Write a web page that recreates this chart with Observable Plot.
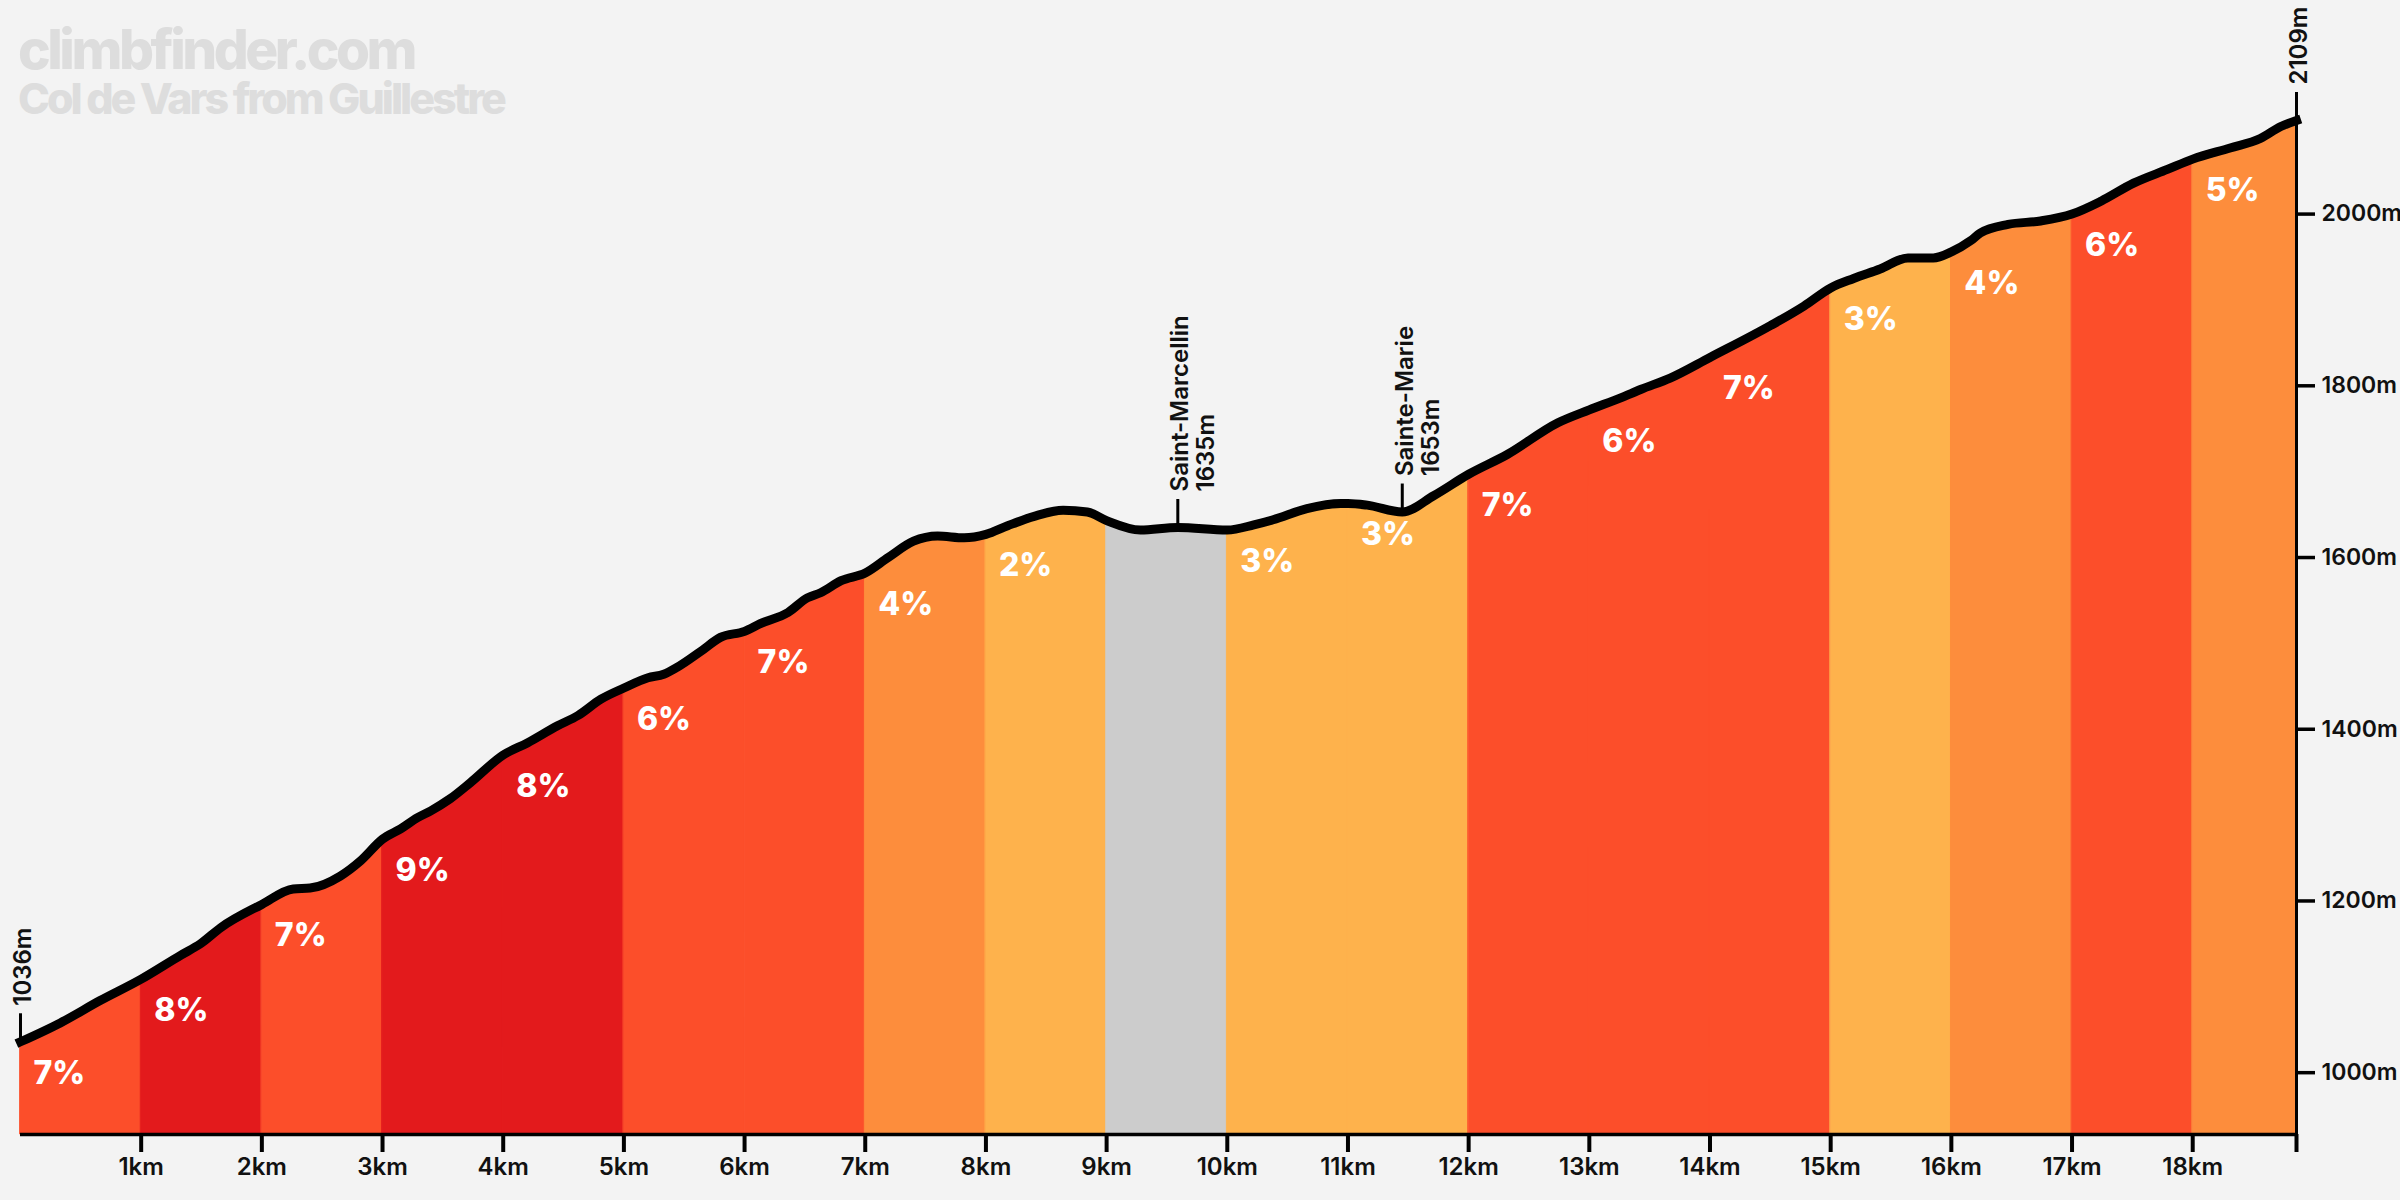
<!DOCTYPE html>
<html>
<head>
<meta charset="utf-8">
<script src="https://cdn.jsdelivr.net/npm/d3@7"></script>
<script src="https://cdn.jsdelivr.net/npm/@observablehq/plot@0.6"></script>
<style>
  html, body { margin: 0; padding: 0; background: #f3f3f3; }
  #wrap { position: relative; width: 2400px; height: 1200px; }
  #title { position: absolute; left: 18px; top: 22px; font-family: Inter, "Noto Sans", sans-serif; color: #dddddd; font-weight: 800; }
  #title .site { font-size: 55px; line-height: 55px; letter-spacing: -3.5px; }
  #title .climb { font-size: 43px; line-height: 42px; letter-spacing: -3px; }
  g[aria-label="grade-label"] { filter: drop-shadow(1px 2px 1.5px rgba(0,0,0,0.35)); }
</style>
</head>
<body>
<div id="wrap">
  <div id="title">
    <div class="site">climbfinder.com</div>
    <div class="climb">Col de Vars from Guillestre</div>
  </div>
</div>
<script>
// Elevation profile: distance (km) and altitude (m)
const profileKm = [
  0, 0.33, 0.66, 1, 1.33, 1.49, 1.66, 2, 2.26, 2.4, 2.65, 2.82, 3, 3.15, 3.29,
  3.4, 3.56, 3.73, 4, 4.2, 4.45, 4.62, 4.81, 5, 5.2, 5.33, 5.44, 5.64, 5.8, 6,
  6.13, 6.36, 6.52, 6.63, 6.8, 7, 7.19, 7.4, 7.6, 7.82, 8, 8.18, 8.4, 8.64, 8.84,
  9, 9.28, 9.59, 10, 10.22, 10.38, 10.66, 10.94, 11, 11.16, 11.45, 11.71, 12,
  12.32, 12.74, 13, 13.26, 13.43, 13.67, 14, 14.5, 14.78, 15, 15.19, 15.41, 15.64,
  15.85, 16, 16.16, 16.24, 16.47, 16.74, 17, 17.24, 17.51, 17.79, 18, 18.31, 18.56,
  18.73, 18.86
];
const profileElev = [
  1036, 1058, 1084, 1109, 1137, 1150, 1169, 1196, 1214, 1215, 1229, 1247, 1272, 1284, 1297,
  1305, 1319, 1338, 1370, 1384, 1404, 1416, 1435, 1448, 1460, 1464, 1472, 1491, 1507, 1514,
  1523, 1536, 1553, 1559, 1573, 1582, 1600, 1619, 1625, 1623, 1627, 1637, 1648, 1655, 1653,
  1643, 1632, 1635, 1632, 1638, 1644, 1657, 1663, 1663, 1661, 1653, 1672, 1697,
  1720, 1757, 1772, 1786, 1796, 1809, 1833, 1870, 1893, 1914, 1925, 1936, 1949,
  1949, 1956, 1969, 1978, 1988, 1992, 2000, 2015, 2036, 2052, 2064, 2077, 2088,
  2102, 2109
];

// Average gradient (%) of each kilometre, starting at km 0
const segmentGrade = [7, 8, 7, 9, 8, 6, 7, 4, 2, -1, 3, 3, 7, 6, 7, 3, 4, 6, 5];

// Named places along the road (plus start and summit)
const markerKm = [0, 9.59, 11.45, 18.86];
const markerName = ["", "Saint-Marcellin", "Sainte-Marie", ""];
const markerElev = [1036, 1635, 1653, 2109];

// Axis ticks
const kmTicks = [1, 2, 3, 4, 5, 6, 7, 8, 9, 10, 11, 12, 13, 14, 15, 16, 17, 18];
const elevTicks = [1000, 1200, 1400, 1600, 1800, 2000];
const elevationFloor = 928;

// Gradient colour bands
const gradeThresholds = [1, 4, 6, 8];
const gradeColors = ["#cccccc", "#feb24c", "#fd8d3c", "#fc4e2a", "#e31a1c"];

const totalKm = profileKm[profileKm.length - 1];
const summit = profileElev[profileElev.length - 1];
const profile = profileKm.map((km, i) => ({km, elev: profileElev[i]}));

const elevAt = (km) => {
  const i = profileKm.findIndex((k) => Math.abs(k - km) < 1e-9);
  return profileElev[i];
};

// Split the profile into one area series per kilometre (boundary points shared)
const segments = segmentGrade.map((grade, i) => ({
  seg: i, start: i, end: Math.min(i + 1, totalKm), grade
}));
const areaRows = segments.flatMap((s) =>
  profile
    .filter((p) => p.km >= s.start - 1e-9 && p.km <= s.end + 1e-9)
    .map((p) => ({...p, seg: s.seg, grade: s.grade}))
);
const labelled = segments
  .filter((s) => s.grade > 0)
  .map((s) => ({...s, elev: elevAt(s.start)}));

const markers = markerKm.map((km, i) => ({km, name: markerName[i], elev: markerElev[i]}));

const font = "Inter, 'Noto Sans', sans-serif";

const chart = Plot.plot({
  width: 2400,
  height: 1200,
  marginLeft: 20,
  marginRight: 104,
  marginTop: 120,
  marginBottom: 66,
  x: {domain: [0, totalKm], axis: null},
  y: {domain: [elevationFloor, summit], axis: null},
  color: {type: "threshold", domain: gradeThresholds, range: gradeColors},
  style: {background: "#f3f3f3", fontFamily: font, overflow: "visible"},
  marks: [
    // coloured gradient bands under the profile
    Plot.areaY(areaRows, {
      x: "km", y1: elevationFloor, y2: "elev", z: "seg",
      fill: "grade", stroke: "grade", strokeWidth: 1, curve: "monotone-x"
    }),
    // place markers
    Plot.ruleX(markers, {
      x: "km", y1: "elev", y2: "elev", insetTop: -28, stroke: "#000", strokeWidth: 3
    }),
    Plot.text(markers, {
      x: "km", y: "elev",
      text: (d) => d.name ? `${d.name}\n${d.elev}m` : `${d.elev}m`,
      rotate: -90, textAnchor: "start", lineAnchor: "top", lineHeight: 1.08,
      dx: -8, dy: -36, fontSize: 24, fontWeight: 600, fill: "#111"
    }),
    // profile line
    Plot.line(profile, {
      x: "km", y: "elev", stroke: "#000", strokeWidth: 9,
      curve: "monotone-x", strokeLinejoin: "round", strokeLinecap: "square"
    }),
    // gradient labels
    Plot.text(labelled, {
      x: "start", y: "elev", text: (d) => `${d.grade}%`,
      textAnchor: "start", lineAnchor: "top", dx: 13, dy: 19,
      fontSize: 32, fontWeight: 800, fill: "#fff", ariaLabel: "grade-label"
    }),
    // distance axis
    Plot.ruleY([elevationFloor], {x1: 0, x2: totalKm, stroke: "#000", strokeWidth: 3.5}),
    Plot.ruleX([...kmTicks, totalKm], {
      x: (d) => d, y1: elevationFloor, y2: elevationFloor, insetBottom: -18,
      stroke: "#000", strokeWidth: 4
    }),
    Plot.text(kmTicks, {
      x: (d) => d, frameAnchor: "bottom", dy: 40, text: (d) => `${d}km`,
      fontSize: 24, fontWeight: 600, fill: "#111"
    }),
    // elevation axis
    Plot.ruleX([totalKm], {x: (d) => d, y1: elevationFloor, y2: summit, stroke: "#000", strokeWidth: 3}),
    Plot.ruleY(elevTicks, {
      y: (d) => d, x1: totalKm, x2: totalKm, insetRight: -19, stroke: "#000", strokeWidth: 3.5
    }),
    Plot.text(elevTicks, {
      y: (d) => d, frameAnchor: "right", dx: 25, textAnchor: "start",
      text: (d) => `${d}m`, fontSize: 23, fontWeight: 600, fill: "#111"
    })
  ]
});

document.getElementById("wrap").prepend(chart);
</script>
</body>
</html>
